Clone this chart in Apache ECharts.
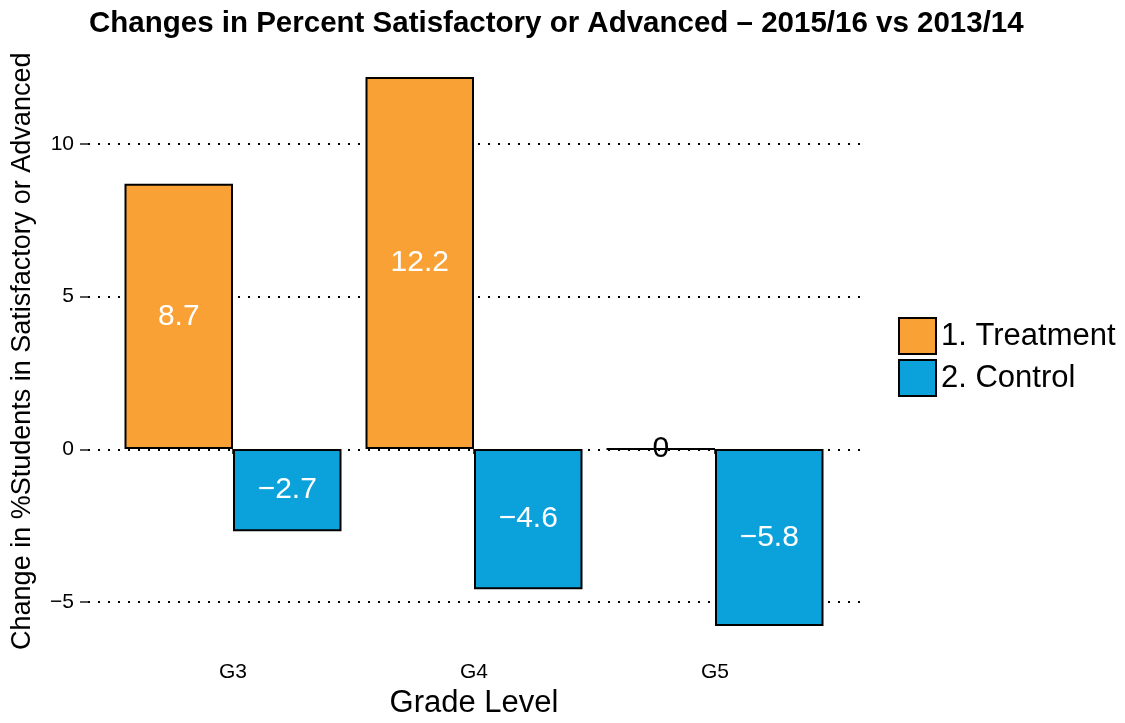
<!DOCTYPE html>
<html>
<head>
<meta charset="utf-8">
<script src="https://cdn.jsdelivr.net/npm/echarts@6/dist/echarts.min.js"></script>
<style>
  html, body { margin: 0; padding: 0; background: #fff; }
  #chart { width: 1125px; height: 723px; }
</style>
</head>
<body>
<div id="chart"></div>
<script>
const grades = ["G3", "G4", "G5"];
const treatment = [8.7, 12.2, 0];
const control = [-2.7, -4.6, -5.8];
const yTicks = [-5, 0, 5, 10];

const FONT = "Liberation Sans, Arial, sans-serif";

// ggplot style minus sign
function fmt(v) {
  return String(v).replace("-", "\u2212");
}

function toBarData(values) {
  return values.map((v) => {
    const item = { value: v };
    if (v === 0) {
      item.label = { color: "#000" };
    }
    return item;
  });
}

const chart = echarts.init(document.getElementById("chart"));

const barLabel = {
  show: true,
  position: "inside",
  color: "#fff",
  fontFamily: FONT,
  fontSize: 30,
  formatter: (p) => fmt(p.value),
};

const option = {
  animation: false,
  textStyle: { fontFamily: FONT },
  title: {
    text: "Changes in Percent Satisfactory or Advanced \u2013 2015/16 vs 2013/14",
    left: 84,
    top: 4,
    textStyle: { fontFamily: FONT, fontSize: 29.5, fontWeight: "bold", color: "#000" },
  },
  legend: {
    orient: "vertical",
    left: 898,
    top: 317,
    padding: 0,
    itemWidth: 37,
    itemHeight: 36,
    itemGap: 4,
    icon: "rect",
    textStyle: { fontFamily: FONT, fontSize: 31, color: "#000", padding: [6, 0, 0, 0] },
    data: ["1. Treatment", "2. Control"],
  },
  grid: [
    // tick labels + dotted lines
    { left: 88, right: 265, top: 144, height: 458, outerBoundsMode: "none" },
    // bars
    { left: 112.5, width: 723, top: 22, height: 640.5, outerBoundsMode: "none" },
  ],
  xAxis: [
    { type: "value", gridIndex: 0, show: false, min: 0, max: 1 },
    {
      type: "category",
      gridIndex: 1,
      data: grades,
      offset: -9.5,
      axisLine: { show: false },
      axisTick: { show: true, alignWithLabel: true, length: 5, lineStyle: { color: "#000", width: 1.5 } },
      axisLabel: { fontFamily: FONT, fontSize: 21, color: "#000", margin: 9 },
      name: "Grade Level",
      nameLocation: "middle",
      nameGap: 35,
      nameTextStyle: { fontFamily: FONT, fontSize: 31, color: "#000" },
    },
  ],
  yAxis: [
    {
      type: "value",
      gridIndex: 0,
      min: yTicks[0],
      max: yTicks[yTicks.length - 1],
      interval: 5,
      axisLine: { show: false },
      axisTick: { show: true, length: 8, lineStyle: { color: "#222", width: 1.5 } },
      axisLabel: { fontFamily: FONT, fontSize: 21, color: "#000", margin: 14, formatter: fmt },
      splitLine: { show: true, lineStyle: { color: "#000", width: 2, type: [2, 8] } },
    },
    {
      type: "value",
      gridIndex: 1,
      min: -7,
      max: 14,
      interval: 7,
      axisLine: { show: false },
      axisTick: { show: false },
      axisLabel: { show: false },
      splitLine: { show: false },
      name: "Change in %Students in Satisfactory or Advanced",
      nameLocation: "middle",
      nameGap: 76,
      nameTextStyle: { fontFamily: FONT, fontSize: 27, color: "#000", padding: [0, 18, 0, 0] },
    },
  ],
  series: [
    {
      name: "1. Treatment",
      type: "bar",
      xAxisIndex: 1,
      yAxisIndex: 1,
      barWidth: 108.5,
      barGap: "0%",
      itemStyle: { color: "#F9A134", borderColor: "#000", borderWidth: 2 },
      label: barLabel,
      data: toBarData(treatment),
    },
    {
      name: "2. Control",
      type: "bar",
      xAxisIndex: 1,
      yAxisIndex: 1,
      barWidth: 108.5,
      barGap: "0%",
      itemStyle: { color: "#0BA1DA", borderColor: "#000", borderWidth: 2 },
      label: barLabel,
      data: toBarData(control),
    },
  ],
};

chart.setOption(option);
</script>
</body>
</html>
